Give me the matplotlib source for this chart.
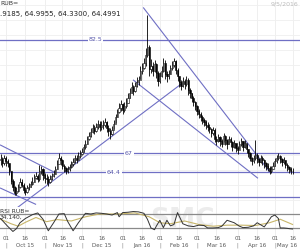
import numpy as np
import pandas as pd
import matplotlib
matplotlib.use("Agg")
import matplotlib.pyplot as plt

# ---------------- data ----------------
dates = pd.bdate_range("2015-09-28", periods=166)

close = [66.2, 65.6, 66.4, 65.9, 65.6,
         64.5, 63.2, 62.3, 61.6,
         61.8, 62.3, 63.0, 62.7, 62.0, 61.7, 62.2, 62.4,
         62.8, 63.1, 63.6, 63.9, 63.5,
         64.5, 64.8, 64.0, 63.6,
         63.4, 63.1, 63.5, 63.8,
         64.2, 64.8, 65.5, 66.3, 66.0, 65.3,
         64.9, 64.6, 64.8, 65.1, 65.5,
         65.8, 66.3, 66.1, 66.6, 66.9, 67.2,
         67.8, 68.3, 68.9, 69.4, 69.9, 70.5, 70.1, 70.6, 71.0, 70.6,
         70.8, 70.9, 71.3, 70.5, 70.0, 69.6, 70.2, 71.0,
         71.9, 72.6, 73.2, 73.7, 72.9, 73.4, 73.9,
         74.6, 75.3, 76.0, 75.5, 76.2, 76.8,
         77.0, 78.2, 78.6, 79.3,
         80.5, 81.5, 78.5,
         79.0, 78.3, 79.2, 78.0, 76.9, 77.6,
         78.2, 79.4, 77.8, 77.5, 77.9, 78.6, 79.1, 79.6, 78.4,
         77.6, 76.8, 76.2, 76.9, 76.5, 77.0, 75.6, 75.2, 74.6,
         74.0, 73.5, 72.8, 72.4, 72.0, 71.6, 71.2, 70.9, 70.6,
         70.3, 69.8, 70.2, 69.0, 68.7, 69.2, 68.6,
         68.3, 69.3, 68.8, 68.2, 69.0, 68.5, 67.9, 68.4, 67.7, 67.4,
         68.2, 68.6, 67.9, 68.4, 67.6, 67.0, 66.4, 65.9,
         66.3, 66.8, 66.2, 65.8, 66.3, 66.0, 65.6, 65.2,
         65.0, 64.6, 64.8, 65.3, 65.9, 66.3,
         66.6, 66.2, 65.8, 66.1, 65.4,
         65.1, 64.8, 64.6, 64.4991]

high = [66.9, 66.5, 66.8, 66.6, 66.2,
        65.7, 64.6, 63.4, 62.5,
        62.4, 62.8, 63.6, 63.4, 62.9, 62.3, 62.7, 62.9,
        63.2, 63.7, 64.1, 64.4, 64.2,
        65.4, 65.3, 65.0, 64.3,
        64.1, 63.8, 64.0, 64.3,
        64.7, 65.2, 66.0, 67.0, 66.6, 66.2,
        65.5, 65.1, 65.2, 65.5, 65.9,
        66.3, 66.8, 66.8, 67.1, 67.4, 67.7,
        68.3, 68.8, 69.4, 69.9, 70.5, 71.0, 70.9, 71.1, 71.6, 71.4,
        71.4, 71.5, 71.8, 71.4, 70.8, 70.4, 70.7, 71.5,
        72.4, 73.1, 73.9, 74.3, 73.9, 74.0, 74.6,
        75.2, 75.9, 76.7, 76.4, 76.8, 77.4,
        77.6, 78.9, 79.3, 80.0,
        81.4, 85.9, 81.8,
        79.9, 79.5, 79.8, 79.4, 78.2, 78.1,
        78.9, 80.0, 79.7, 78.3, 78.4, 79.1, 79.6, 80.1, 79.8,
        78.6, 77.6, 77.0, 77.4, 77.2, 77.6, 77.3, 75.9, 75.3,
        74.8, 74.2, 73.6, 73.1, 72.6, 72.2, 71.8, 71.5, 71.2,
        71.0, 70.5, 70.6, 70.4, 69.4, 69.6, 69.3,
        69.0, 69.8, 69.5, 68.9, 69.4, 69.2, 68.6, 68.8, 68.3, 68.0,
        68.6, 69.1, 68.7, 68.8, 68.3, 67.6, 67.1, 66.5,
        66.8, 68.8, 67.0, 66.4, 66.7, 66.6, 66.2, 65.8,
        65.6, 65.3, 65.2, 65.8, 66.4, 66.8,
        67.0, 66.8, 66.4, 66.5, 66.1,
        65.6, 65.3, 65.1, 64.9]

low = [65.4, 65.1, 65.4, 65.3, 65.1,
       64.0, 62.8, 61.8, 61.2,
       61.3, 61.7, 62.2, 62.3, 61.6, 61.2, 61.6, 61.9,
       62.3, 62.6, 63.0, 63.4, 63.1,
       63.2, 64.1, 63.3, 62.9,
       62.8, 62.5, 62.9, 63.3,
       63.7, 64.1, 64.8, 65.6, 65.4, 64.8,
       64.4, 64.2, 64.3, 64.6, 65.0,
       65.3, 65.7, 65.6, 66.0, 66.4, 66.7,
       67.1, 67.6, 68.2, 68.8, 69.2, 69.8, 69.6, 69.9, 70.3, 70.0,
       70.2, 70.3, 70.6, 69.9, 69.3, 68.9, 69.5, 70.3,
       71.1, 71.9, 72.5, 72.8, 72.3, 72.7, 73.2,
       73.9, 74.6, 75.2, 74.9, 75.4, 76.0,
       76.3, 77.1, 77.8, 78.5,
       79.0, 80.2, 77.6,
       78.0, 77.6, 78.1, 77.3, 76.2, 76.6,
       77.4, 78.1, 77.2, 76.8, 77.1, 77.8, 78.4, 78.8, 77.8,
       76.9, 76.1, 75.6, 76.0, 75.8, 76.2, 75.0, 74.6, 74.0,
       73.4, 72.9, 72.2, 71.8, 71.4, 71.0, 70.7, 70.3, 70.0,
       69.7, 69.2, 69.5, 68.5, 68.1, 68.5, 68.0,
       67.8, 68.5, 68.1, 67.6, 68.3, 67.9, 67.3, 67.7, 67.1, 66.9,
       67.5, 68.0, 67.3, 67.7, 67.0, 66.5, 65.9, 65.4,
       65.6, 66.0, 65.6, 65.3, 65.7, 65.4, 65.0, 64.7,
       64.5, 64.2, 64.3, 64.8, 65.3, 65.7,
       66.0, 65.6, 65.3, 65.5, 64.9,
       64.6, 64.3, 64.2, 64.1]

first_open = 66.0

# RSI (14): (bar index, value)
rsi_idx = [0, 4, 7, 9, 11, 14, 18, 21, 24, 27, 30, 33, 36, 38, 41, 44, 48, 51,
           54, 57, 60, 63, 66, 67, 69, 72, 75, 78, 81, 83, 85, 87, 88, 90, 92,
           94, 96, 98, 100, 103, 106, 109, 112, 115, 117, 120, 123, 125, 128,
           132, 135, 137, 140, 143, 145, 149, 151, 153, 155, 157, 158, 160,
           162, 163, 165]
rsi_val = [57, 35, 20, 28, 45, 57, 68, 73, 55, 22, 45, 70, 71, 48, 22, 45, 72,
           70, 73, 72, 70, 67, 74, 62, 74, 75, 77, 76, 72, 55, 30, 25, 35,
           52, 31, 52, 36, 40, 74, 42, 36, 34, 38, 37, 30, 30, 31, 35, 52,
           45, 35, 31, 32, 36, 45, 33, 47, 62, 67, 57, 30, 30, 29, 28, 27]

sig_idx = [0, 6, 10, 14, 20, 26, 32, 40, 48, 56, 66, 76, 84, 90, 96, 104,
           112, 120, 128, 136, 144, 152, 158, 165]
sig_val = [55, 42, 35, 46, 60, 48, 54, 50, 62, 70, 70, 73, 62, 45, 42, 50,
           40, 35, 38, 38, 37, 45, 55, 40]

levels = [82.5, 67.0, 64.4, 61.0]
level_labels = ["82.5", "67", "64.4", ""]
level_label_x = [53.5, 72.5, 64, None]

# trend lines: (bar index, price) pairs
trend_lines = [
    ((8.5, 59.35), (101.7, 76.4)),    # rising support
    ((0.0, 68.1), (31.1, 64.3)),      # upper left falling
    ((0.0, 62.2), (19.8, 60.0)),      # lower left falling
    ((80.8, 86.9), (152.5, 64.3)),    # upper falling from peak
    ((75.1, 77.0), (145.2, 63.6)),    # lower falling channel
]

day_labels = ["01", "16"]
months = pd.date_range("2015-10-01", "2016-05-01", freq="MS")

# ---------------- figure ----------------
fig = plt.figure(figsize=(3.0, 2.5), dpi=100)
ax = fig.add_axes([0.0, 0.172, 1.0, 0.828])
ax2 = fig.add_axes([0.0, 0.056, 1.0, 0.116])

xs = np.arange(len(close))
opens = [first_open] + close[:-1]

tick_pos = []
tick_txt = []
month_pos = []
month_txt = []
for m in months:
    for d, lab in zip([1, 16], day_labels):
        dt = m + pd.Timedelta(days=d - 1)
        p = dates.searchsorted(dt)
        tick_pos.append(p)
        tick_txt.append(lab)
        if d == 16:
            month_pos.append(p)
            month_txt.append(m.strftime("%b %y"))

for a in (ax, ax2):
    for p in tick_pos:
        a.axvline(p, color="#ececec", lw=0.6, zorder=0)
for g in np.arange(60.6, 88, 2.05):
    ax.axhline(g, color="#efefef", lw=0.6, zorder=0)

# candles
ax.vlines(xs, low, high, color="black", lw=0.6, zorder=3)
for i, (o, c) in enumerate(zip(opens, close)):
    up = c >= o
    ax.bar(i, abs(c - o) if abs(c - o) > 0.05 else 0.05, bottom=min(o, c),
           width=0.7, color="white" if up else "black", edgecolor="black",
           lw=0.4, zorder=4)

line_col = "#6f6fc4"
for lv, lb, lx in zip(levels, level_labels, level_label_x):
    ax.axhline(lv, color=line_col, lw=0.9, zorder=2)
    if lb:
        ax.text(lx, lv, lb, fontsize=4.5, color="#5555aa", ha="center",
                va="center", zorder=5,
                bbox=dict(facecolor="white", edgecolor="none", pad=0.6))

for (x0, y0), (x1, y1) in trend_lines:
    ax.plot([x0, x1], [y0, y1], color=line_col, lw=0.8, zorder=2)

ax.set_xlim(-0.3, 169.2)
ax.set_ylim(59.62, 87.98)
ax.set_xticks([])
ax.set_yticks([])
for s in ax.spines.values():
    s.set_visible(False)

ax.text(0.0, 0.995, "RUB=", transform=ax.transAxes, fontsize=4.5,
        color="#333333", va="top", ha="left")
ax.text(0.0, 0.945, ".9185, 64.9955, 64.3300, 64.4991", transform=ax.transAxes,
        fontsize=5, color="#222222", va="top", ha="left")
ax.text(0.995, 0.995, "9/5/2016", transform=ax.transAxes, fontsize=4.5,
        color="#bbbbbb", va="top", ha="right")

# RSI panel
ax2.text(103, 52, "SMC", fontsize=19, color="#ececec", ha="center",
         va="center", fontweight="bold", zorder=0)
for lv in (70, 30):
    ax2.axhline(lv, color="#8a8a8a", lw=0.9, zorder=1)
ax2.plot(sig_idx, sig_val, color="#c8b66a", lw=0.8, zorder=2)
ax2.plot(rsi_idx, rsi_val, color="#333333", lw=0.7, zorder=3)
ax2.text(0.0, 0.92, "RSI RUB=", transform=ax2.transAxes, fontsize=4.3,
         color="#333333", va="top", ha="left")
ax2.text(0.0, 0.72, "34.140,", transform=ax2.transAxes, fontsize=4.3,
         color="#333333", va="top", ha="left")
ax2.set_xlim(-0.3, 169.2)
ax2.set_ylim(7, 90)
ax2.set_yticks([])
ax2.set_xticks([])
for s in ax2.spines.values():
    s.set_visible(False)
xt = ax2.get_xaxis_transform()
for p, t in zip(tick_pos, tick_txt):
    ax2.text(p, -0.1, t, transform=xt, fontsize=4, color="#555555",
             ha="center", va="center")
    if t == "01":
        ax2.text(p, -0.33, "|", transform=xt, fontsize=3.5,
                 color="#777777", ha="center", va="center")
for p, t in zip(month_pos, month_txt):
    ax2.text(min(p, 162), -0.33, t, transform=xt, fontsize=4,
             color="#555555", ha="center", va="center")

fig.savefig("out.png", dpi=100)
